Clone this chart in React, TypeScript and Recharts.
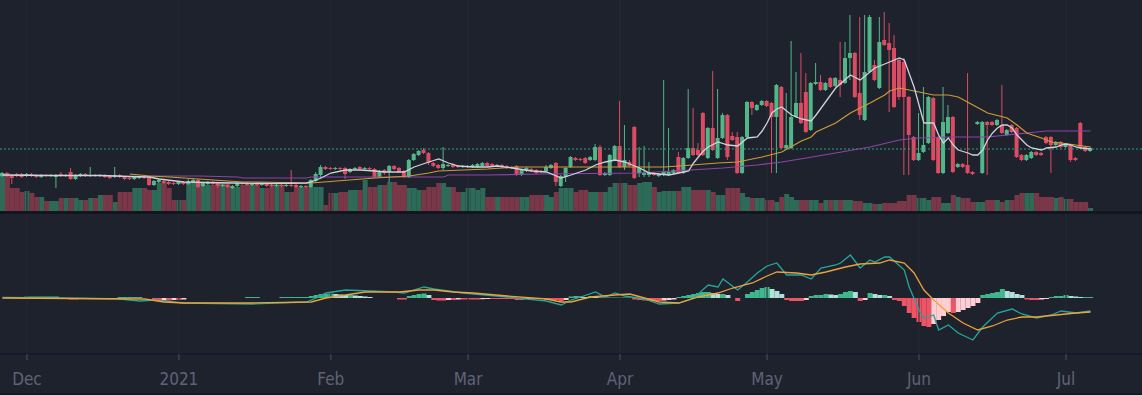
import React from 'react';
import { ComposedChart, Bar, Line, XAxis, YAxis, Cell, ReferenceLine } from 'recharts';

// ---- daily candles (Nov 26 2020 .. Jul 6 2021), price units ----
const OPEN = [
  35,38,36,37,37,35,37,36,34,36, 35,34,37,35,39,32,35,37,35,36,
  35,36,35,34,36,34,33,32,33,34, 34,26,29,30,29,28,27,29,27,29,
  31,25,27,29,28,25,26,23,25,28, 28,26,27,26,27,26,25,26,25,26,
  26,24,25,24,30,36,44,43,42,43, 43,39,42,44,42,43,42,34,41,39,
  45,43,40,34,51,56,61,58,48,46, 43,45,47,45,44,44,44,44,45,48,
  47,45,46,45,44,45,36,40,42,41, 40,40,43,48,25,34,44,53,52,53,
  51,51,64,36,36,51,65,44,49,84, 38,36,36,38,35,36,36,38,54,38,
  53,63,61,98,53,83,53,73,96,75, 74,38,74,109,101,106,110,108,94,124,
  63,63,94,108,119,81,127,129,121,133, 125,131,128,153,158,118,91,139,146,123,
  171,168,163,151,149,114,74,51,59,68, 113,74,38,78,94,44,47,46,39,87,
  38,89,89,86,86,76,86,83,56,51, 53,59,58,74,74,66,69,64,66,53,
  88,64,60,
];
const HIGH = [
  39,39,37,38,38,38,38,37,37,37, 37,37,39,37,43,37,38,38,44,37,
  37,37,36,44,37,35,34,35,35,35, 35,31,32,31,30,29,30,30,32,32,
  32,29,30,30,29,27,27,26,29,29, 29,28,28,28,28,27,27,27,27,41,
  27,26,26,32,39,46,45,44,44,44, 44,43,44,45,44,44,43,41,42,46,
  46,44,41,52,58,61,63,59,49,47, 64,47,48,46,46,46,47,48,49,49,
  48,47,47,46,45,46,42,44,43,42, 41,46,47,49,36,44,55,54,53,54,
  55,67,66,39,57,66,110,86,51,85, 64,65,49,39,38,131,83,42,59,54,
  122,103,68,99,84,140,122,98,97,79, 79,75,110,110,107,111,111,109,127,125,
  118,170,139,158,138,129,148,136,129,134, 134,169,169,196,159,194,196,196,151,194,
  199,188,176,153,153,115,75,98,124,115, 114,75,124,106,95,48,48,138,40,90,
  90,90,90,92,126,82,87,84,57,57, 60,60,59,75,75,70,70,67,67,54,
  89,65,64,
];
const LOW = [
  34,34,27,34,33,34,34,33,33,34, 34,23,34,34,31,31,34,34,34,34,
  34,33,32,33,33,31,31,31,32,32, 25,25,28,27,26,26,26,26,26,28,
  23,24,26,26,23,24,23,22,24,26, 25,25,25,25,24,24,24,24,24,24,
  23,23,23,23,29,33,41,41,41,41, 32,38,41,41,41,41,33,33,36,29,
  41,38,33,33,50,55,57,46,44,42, 41,44,43,43,43,43,43,43,44,44,
  44,44,43,42,42,35,35,39,39,37, 38,39,42,25,24,29,43,50,50,47,
  50,50,35,35,35,50,43,41,44,32, 34,34,34,35,34,35,35,37,37,37,
  52,55,55,55,52,60,52,72,51,70, 37,37,73,96,100,105,104,38,38,62,
  62,62,93,87,78,80,126,120,120,123, 124,114,127,131,113,91,90,138,130,122,
  165,99,103,111,36,36,50,50,58,67, 50,37,37,77,38,43,43,37,36,86,
  37,36,85,85,77,75,78,53,50,50, 52,55,55,67,38,65,63,63,49,50,
  62,59,59,
];
const CLOSE = [
  38,35,33,35,34,37,35,34,36,35, 36,36,35,36,32,36,37,35,36,35,
  36,34,33,36,34,32,32,34,34,33, 26,30,31,28,27,27,29,27,30,31,
  24,28,29,27,25,26,24,25,28,27, 26,27,26,27,25,25,26,25,26,25,
  24,25,24,31,37,44,42,42,43,42, 37,42,43,42,43,42,34,40,38,45,
  42,39,34,51,57,60,58,48,45,43, 47,46,44,44,45,45,46,47,48,45,
  45,46,44,43,43,36,41,43,40,38, 39,44,46,29,35,43,54,51,51,48,
  54,64,36,38,56,65,44,51,45,33, 43,38,38,36,37,39,39,41,38,53,
  63,56,56,56,83,61,73,96,54,71, 38,74,109,103,106,110,105,94,126,63,
  66,94,108,88,79,128,129,121,128,124, 133,126,153,158,114,96,139,194,131,169,
  166,161,104,114,114,76,51,58,66,114, 51,38,89,94,39,47,44,38,37,89,
  89,86,86,91,78,81,79,54,51,56, 59,56,56,68,66,69,64,66,51,51,
  63,60,63,
];
const VOLUME = [
  38,38,23,23,19,20,18,14,14,10, 10,10,13,13,13,13,11,11,13,13,
  16,16,16,9,19,19,19,23,23,23, 21,21,28,28,23,11,11,11,28,28,
  28,26,26,26,28,28,28,24,24,26, 26,26,26,23,23,26,26,26,19,19,
  24,24,24,24,24,24,6,18,18,19, 19,21,21,21,31,24,24,26,26,29,
  29,26,26,23,23,21,21,24,24,28, 28,24,24,19,19,23,23,21,23,14,
  14,14,14,14,14,14,14,14,16,16, 16,16,14,19,23,23,23,19,21,21,
  19,19,19,19,24,28,28,28,26,26, 28,29,29,24,19,20,20,20,20,24,
  24,21,21,21,21,19,16,16,23,23, 23,18,14,13,13,13,11,11,9,14,
  17,14,11,11,11,11,11,8,11,11, 11,11,11,11,10,10,8,8,7,7,
  8,8,8,10,10,16,16,13,13,11, 14,14,8,8,16,14,13,13,9,9,
  9,11,11,11,9,11,11,16,18,18, 18,18,14,14,14,13,14,12,12,9,
  9,9,3,
];
const HIST = [
  0,0,0,0,0,1.5,1.5,1.5,1.5,1.5, 1.5,1.5,0,0,-1.5,-1.5,0,0,0,0,
  0,0,0,0,1,1,1,1,1,0, 0,-3,-3,-2.5,-2.5,-2,-2,-1.5,0,0,
  0,0,0,0,0,0,0,0,0,0, 1,1,1,0,0,0,0,1,1,1,
  1,1,1,2,3,4,4,4.5,4,3.5, 3,3,2.5,2,1.5,1,0,0,0,0,
  0,-1.5,-1.5,2,3,4,4.5,3,-2,-2.5, -2.5,-2,-2,-1.5,-1.5,-1.5,-1.5,-1.5,-1.2,-1,
  -1,-1,-1,-1,-1,-2,-2,-1,-1,-1, -1,-2,-2,-2,-3,-2,1.5,2,1.5,1,
  2,1,0.5,0.5,0.5,0.5,0.5,0.5,0.5,-1.5, -2,-2.5,-3,-3,-3,-2.5,-2,-1.5,1,2,
  3,4,5,6,6,5,4,4,3,0, -3,0,4,6,8,10,11,9,7,4,
  -2,-3,-3,-3,-2,2,3,3,4,3.5, 3,4,6,7,6,-3,-2,5,4,3,
  3,2,-2,-3,-8,-15,-20,-24,-28,-29, -26,-22,-18,-14,-15,-14,-12,-10,-8,-5,
  3,4,5,6,9,7,6,4,3,-1.5, -2,-2,-1.5,-1,1,2,2,3,2,1.5,
  1,1,1,
];

// moving averages & MACD lines, read at [day, value]
const MA_FAST: [number, number][] = [
  [0,36],[10,35.5],[20,35.5],[26,34.5],[30,34],[32,32],[37,29],[47,28],[55,27.5],[62,28],[63,29],[65,33],[67,38],
  [70,41],[73,41],[76,40],[78,39],[82,39],[84,44],[87,49],[89,52],[91,48],[93,45],[96,44],[99,44],[101,45],[104,43],
  [108,40],[111,39],[113,35],[114,33],[116,36],[119,41],[121,46],[123,49],[125,51],[127,49],[130,43],[132,38],[136,36],
  [138,38],[140,40],[141,48],[142,54],[143,60],[144,64],[146,69],[148,66],[150,65],[152,73],[154,74],[155,80],[156,88],
  [157,98],[158,102],[159,104],[161,96],[163,92],[165,90],[166,96],[170,123],[173,136],[175,131],[177,139],[178,143],
  [181,149],[183,153],[184,151],[186,124],[188,88],[190,88],[191,76],[192,68],[193,73],[194,66],[195,61],[197,58],
  [198,56],[199,56],[200,61],[201,71],[202,78],[203,83],[204,86],[205,86],[206,83],[207,76],[208,71],[209,66],[210,63],
  [212,61],[213,63],[215,64],[216,66],[217,67],[218,66],[219,64],[220,63],[222,62],
];
const MA_MID: [number, number][] = [
  [26,37],[30,35],[34,34],[40,32],[46,30],[49,29],[52,29],[62,28],[63,28],[76,33],[83,35],[87,38],[89,40],[99,42],
  [105,44],[115,44],[125,44],[135,44],[138,45],[146,48],[150,49],[155,54],[159,59],[163,70],[165,74],[166,79],[170,88],
  [173,98],[177,108],[180,116],[181,120],[183,123],[187,119],[190,116],[193,116],[195,114],[198,106],[201,98],[205,93],
  [207,86],[209,78],[212,73],[214,69],[216,68],[219,66],[222,64],
];
const MA_SLOW: [number, number][] = [
  [30,35],[40,35],[48,34],[49,33],[62,33],[63,34],[90,34],[91,36],[99,36],[110,37],[130,38],[137,40],[147,43],
  [154,46],[159,49],[164,53],[170,58],[177,64],[183,71],[187,73],[193,74],[201,74],[209,78],[213,80],[222,80],
];
const MACD_PTS: [number, number][] = [
  [0,0.5],[11,0],[24,-1],[28,-3],[31,-2],[37,-5],[51,-6],[62,-4],[64,0],[66,5],[70,8],[75,7],[80,6],[82,5],[86,11],
  [88,9],[94,5],[103,1],[111,-3],[114,-7],[116,-2],[118,1],[121,6],[123,1],[125,5],[127,2],[131,-1],[134,-6],[138,-5],
  [141,0],[144,13],[146,11],[147,19],[150,8],[152,16],[154,25],[156,32],[158,35],[160,23],[163,23],[165,19],[167,30],
  [170,33],[171,35],[173,43],[175,30],[177,38],[178,36],[180,41],[181,41],[184,28],[185,11],[187,-12],[188,-20],
  [190,-17],[191,-32],[193,-27],[195,-35],[198,-42],[200,-29],[203,-15],[206,-11],[208,-16],[211,-20],[214,-17],
  [216,-13],[219,-15],[222,-13],
];
const SIGNAL_PTS: [number, number][] = [
  [0,0],[29,-1],[33,-4],[37,-5],[51,-5],[63,-4],[66,0],[70,3],[74,6],[81,6],[85,8],[88,8],[92,6],[96,5],[103,2],
  [111,-1],[114,-4],[116,-4],[120,1],[125,3],[128,4],[131,0],[134,-4],[138,-5],[142,1],[146,5],[149,10],[153,15],
  [156,22],[158,26],[162,25],[165,23],[168,26],[172,31],[175,34],[179,35],[181,38],[184,35],[186,25],[188,8],[190,-2],
  [193,-15],[196,-25],[199,-32],[202,-28],[205,-22],[208,-19],[211,-19],[215,-17],[219,-15],[222,-14],
];
const LAST_PRICE = 62;

const TICK_IDX = [5, 36, 67, 95, 126, 156, 187, 217];
const TICK_LABELS = ['Dec', '2021', 'Feb', 'Mar', 'Apr', 'May', 'Jun', 'Jul'];

const EMPTY_DAYS = 10;
const W = 1142;
const BG = '#1e222d';
const UP = '#52b788';
const DOWN = '#dc4b62';
const VUP = '#2d6b58';
const VDOWN = '#7a3747';
const GRID = '#262a35';

const N = OPEN.length;
const asMap = (pts: [number, number][]) => new Map(pts.map(([k, v]) => [k, v]));
const mFast = asMap(MA_FAST), mMid = asMap(MA_MID), mSlow = asMap(MA_SLOW);
const mMacd = asMap(MACD_PTS), mSig = asMap(SIGNAL_PTS);

const rows: any[] = [];
for (let i = 0; i < N + EMPTY_DAYS; i++) {
  const base: any = {
    i,
    ma1: mFast.has(i) ? mFast.get(i) : null,
    ma2: mMid.has(i) ? mMid.get(i) : null,
    ma3: mSlow.has(i) ? mSlow.get(i) : null,
    macd: mMacd.has(i) ? mMacd.get(i) : null,
    signal: mSig.has(i) ? mSig.get(i) : null,
  };
  if (i < N) {
    base.o = OPEN[i]; base.h = HIGH[i]; base.l = LOW[i]; base.c = CLOSE[i];
    base.range = [LOW[i], HIGH[i]];
    base.vol = VOLUME[i];
    base.hist = HIST[i];
  }
  rows.push(base);
}

const histColor = (i: number) => {
  const v = HIST[i];
  const p = i > 0 ? HIST[i - 1] : 0;
  if (v >= 0) return v >= p ? '#3fb68b' : '#b2dfdb';
  return v <= p ? '#ef5366' : '#ffcdd2';
};

function Candle(props: any) {
  const { x, y, width, height, payload } = props;
  if (!payload || payload.o == null || x == null || y == null) return <g />;
  const { o, h, l, c } = payload;
  const top = Math.min(y, y + height);
  const span = Math.abs(height);
  const k = h - l > 0 ? span / (h - l) : 0;
  const yo = top + (h - o) * k;
  const yc = top + (h - c) * k;
  const col = c >= o ? UP : DOWN;
  const bt = Math.min(yo, yc);
  const bh = Math.max(1, Math.abs(yc - yo));
  const cx = x + width / 2;
  return (
    <g>
      <line x1={cx} x2={cx} y1={top} y2={top + span} stroke={col} strokeWidth={1} />
      <rect x={x} y={bt} width={width} height={bh} fill={col} />
    </g>
  );
}

function AxisTick(props: any) {
  const { x, y, payload } = props;
  const k = TICK_IDX.indexOf(Number(payload && payload.value));
  if (k < 0) return <g />;
  return (
    <g>
      <line x1={x} x2={x} y1={y} y2={y + 6} stroke="#4d5266" strokeWidth={1} />
      <text
        x={x}
        y={y + 31}
        textAnchor="middle"
        fill="#5e6378"
        fontSize={17}
        fontFamily="'DejaVu Sans Condensed', 'DejaVu Sans', sans-serif"
      >
        {TICK_LABELS[k]}
      </text>
    </g>
  );
}

const margin = { top: 0, right: 0, bottom: 0, left: 0 };

export default function App() {
  return (
    <div style={{ position: 'absolute', left: 0, top: 0, width: W, height: 395, background: BG, overflow: 'hidden' }}>
      {/* volume layer */}
      <div style={{ position: 'absolute', left: 0, top: 0 }}>
        <ComposedChart width={W} height={211} data={rows} margin={margin} barCategoryGap={0} barGap={0}>
          <XAxis dataKey="i" type="category" hide />
          <YAxis yAxisId="v" domain={[0, 211]} hide allowDataOverflow />
          {TICK_IDX.map((t) => (
            <ReferenceLine key={t} x={t} yAxisId="v" stroke={GRID} strokeWidth={1} />
          ))}
          <Bar yAxisId="v" dataKey="vol" isAnimationActive={false}>
            {rows.map((r, i) => (
              <Cell key={i} fill={r.c != null && r.c >= r.o ? VUP : VDOWN} />
            ))}
          </Bar>
        </ComposedChart>
      </div>
      {/* price layer */}
      <div style={{ position: 'absolute', left: 0, top: 0 }}>
        <ComposedChart width={W} height={211} data={rows} margin={margin} barCategoryGap={0} barGap={0}>
          <XAxis dataKey="i" type="category" hide />
          <YAxis yAxisId="p" domain={[0, 211]} hide allowDataOverflow />
          <ReferenceLine yAxisId="p" y={LAST_PRICE} stroke="#2f9e87" strokeDasharray="2 2" strokeWidth={1} />
          <Bar yAxisId="p" dataKey="range" barSize={4} isAnimationActive={false} shape={(p: any) => <Candle {...p} />} />
          <Line yAxisId="p" dataKey="ma3" stroke="#8b45a6" strokeWidth={1.2} dot={false} activeDot={false} connectNulls isAnimationActive={false} />
          <Line yAxisId="p" dataKey="ma2" stroke="#d09a35" strokeWidth={1.2} dot={false} activeDot={false} connectNulls isAnimationActive={false} />
          <Line yAxisId="p" dataKey="ma1" stroke="#cfd2da" strokeWidth={1.3} dot={false} activeDot={false} connectNulls isAnimationActive={false} />
        </ComposedChart>
      </div>
      <div style={{ position: 'absolute', left: 0, top: 211, width: W, height: 3, background: '#13161f' }} />
      {/* MACD pane + time axis */}
      <div style={{ position: 'absolute', left: 0, top: 214 }}>
        <ComposedChart width={W} height={181} data={rows} margin={margin} barCategoryGap={0} barGap={0}>
          <XAxis
            dataKey="i"
            type="category"
            height={41}
            interval={0}
            tickLine={false}
            tickSize={0}
            tickMargin={0}
            axisLine={{ stroke: '#151a2e', strokeWidth: 2 }}
            tick={(p: any) => <AxisTick {...p} />}
          />
          <YAxis domain={[-56, 84]} hide allowDataOverflow />
          {TICK_IDX.map((t) => (
            <ReferenceLine key={t} x={t} stroke={GRID} strokeWidth={1} />
          ))}
          <Bar dataKey="hist" isAnimationActive={false}>
            {rows.map((r, i) => (
              <Cell key={i} fill={i < N ? histColor(i) : 'transparent'} />
            ))}
          </Bar>
          <Line dataKey="macd" stroke="#26a69a" strokeWidth={1.3} dot={false} activeDot={false} connectNulls isAnimationActive={false} />
          <Line dataKey="signal" stroke="#eaa23a" strokeWidth={1.3} dot={false} activeDot={false} connectNulls isAnimationActive={false} />
        </ComposedChart>
      </div>
      <div style={{ position: 'absolute', left: 0, top: 393, width: W, height: 2, background: '#161a24' }} />
    </div>
  );
}
